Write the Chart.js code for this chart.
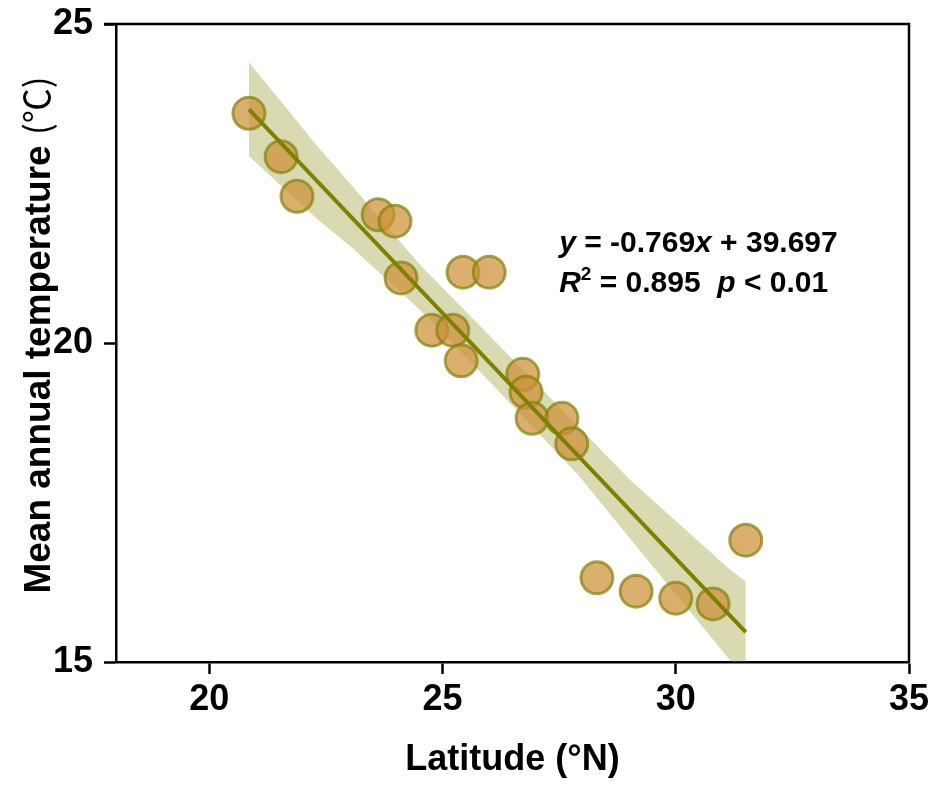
<!DOCTYPE html>
<html>
<head>
<meta charset="utf-8">
<script src="https://cdn.jsdelivr.net/npm/chart.js@4.4.1/dist/chart.umd.min.js"></script>
<style>
  body { margin: 0; background: #fff; }
  #wrap { width: 935px; height: 785px; }
</style>
</head>
<body>
<div id="wrap"><canvas id="latChart"></canvas></div>
<script>
// site data
var latitude = [20.85, 21.54, 21.88, 23.62, 23.98, 24.11, 25.44, 26.0, 24.77, 25.22, 25.4,
  26.72, 26.79, 26.92, 27.56, 27.77, 28.31, 29.15, 30.0, 30.8, 31.5];
var temperature = [23.6, 22.92, 22.3, 22.01, 21.91, 21.02, 21.11, 21.11, 20.2, 20.2, 19.72,
  19.51, 19.23, 18.82, 18.82, 18.42, 16.32, 16.11, 16.0, 15.91, 16.91];

// regression line end points (y = -0.769x + 39.697)
var fitX = [20.85, 31.5];
var fitY = [23.66, 15.47];

// confidence band outline
var bandX = [20.85, 22.3, 23.1, 24.5, 26.0, 27.9, 29.0, 31.16, 31.5];
var bandUpper = [24.4, 23.1, 22.43, 21.24, 20.12, 18.7, 17.87, 16.45, 16.26];
var bandLower = [22.93, 21.95, 21.47, 20.53, 19.4, 17.94, 16.95, 15.03, 14.67];

var xTicks = [20, 25, 30, 35];
var yTicks = [15, 20, 25];

function pts(xs, ys) {
  return xs.map(function (x, i) { return { x: x, y: ys[i] }; });
}

// top + right frame
var framePlugin = {
  id: "frame",
  afterDraw: function (chart) {
    var a = chart.chartArea, ctx = chart.ctx;
    ctx.save();
    ctx.strokeStyle = "#000";
    ctx.lineWidth = 2.5;
    ctx.beginPath();
    ctx.moveTo(a.left - 12, a.top);
    ctx.lineTo(a.right, a.top);
    ctx.lineTo(a.right, a.bottom);
    ctx.stroke();
    ctx.restore();
  }
};

function drawRuns(ctx, runs, x, y) {
  runs.forEach(function (r) {
    ctx.font = r.font;
    ctx.fillText(r.t, x, y + (r.dy || 0));
    x += ctx.measureText(r.t).width;
  });
}

// y title with mixed weight + equation text
var textPlugin = {
  id: "texts",
  afterDraw: function (chart) {
    var ctx = chart.ctx, a = chart.chartArea;
    ctx.save();
    ctx.fillStyle = "#000";
    ctx.textBaseline = "alphabetic";

    // y axis title
    var f1 = "bold 37px 'Liberation Sans', Arial, sans-serif";
    var f2 = "normal 35px 'Noto Sans CJK SC', sans-serif";
    var t1 = "Mean annual temperature ", t2 = "(\u2103)";
    ctx.font = f1;
    var w1 = ctx.measureText(t1).width;
    ctx.font = f2;
    var w2 = ctx.measureText(t2).width;
    ctx.translate(50, (a.top + a.bottom) / 2 - 8);
    ctx.rotate(-Math.PI / 2);
    drawRuns(ctx, [{ t: t1, font: f1 }, { t: t2, font: f2 }], -(w1 + w2) / 2, 0);
    ctx.setTransform(1, 0, 0, 1, 0, 0);

    // equation
    var xs = chart.scales.x, ys = chart.scales.y;
    var ex = xs.getPixelForValue(27.5);
    var b = "bold 30px 'Liberation Sans', Arial, sans-serif";
    var bi = "italic bold 30px 'Liberation Sans', Arial, sans-serif";
    var sup = "bold 19px 'Liberation Sans', Arial, sans-serif";
    drawRuns(ctx, [
      { t: "y", font: bi },
      { t: " = -0.769", font: b },
      { t: "x", font: bi },
      { t: " + 39.697", font: b }
    ], ex, ys.getPixelForValue(21.42));
    drawRuns(ctx, [
      { t: "R", font: bi },
      { t: "2", font: sup, dy: -12 },
      { t: " = 0.895  ", font: b },
      { t: "p", font: bi },
      { t: " < 0.01", font: b }
    ], ex, ys.getPixelForValue(20.8));
    ctx.restore();
  }
};

var tickFont = { family: "'Liberation Sans', Arial, sans-serif", size: 36, weight: "bold" };

new Chart(document.getElementById("latChart"), {
  type: "scatter",
  data: {
    datasets: [
      {
        type: "line",
        data: pts(bandX, bandUpper),
        borderWidth: 0,
        pointRadius: 0,
        fill: false,
        order: 4
      },
      {
        type: "line",
        data: pts(bandX, bandLower),
        borderWidth: 0,
        pointRadius: 0,
        fill: 0,
        backgroundColor: "rgba(128,128,0,0.3)",
        order: 3
      },
      {
        data: pts(latitude, temperature),
        pointRadius: 16,
        pointBorderWidth: 3,
        backgroundColor: "rgba(205,145,55,0.72)",
        borderColor: "rgba(130,130,10,0.7)",
        order: 2
      },
      {
        type: "line",
        data: pts(fitX, fitY),
        borderColor: "#7f7f00",
        borderWidth: 4,
        pointRadius: 0,
        fill: false,
        order: 1
      }
    ]
  },
  options: {
    responsive: true,
    maintainAspectRatio: false,
    animation: false,
    layout: { padding: { left: 0, right: 26, top: 24, bottom: 0 } },
    plugins: {
      legend: { display: false },
      tooltip: { enabled: false },
      filler: { drawTime: "beforeDatasetsDraw" }
    },
    scales: {
      x: {
        type: "linear",
        min: 18,
        max: 35,
        afterBuildTicks: function (s) {
          s.ticks = xTicks.map(function (v) { return { value: v }; });
        },
        afterFit: function (s) {
          s.height = 123;
          s.paddingLeft = 0;
          s.paddingRight = 0;
        },
        grid: { drawOnChartArea: false, tickLength: 12, tickWidth: 2.5, tickColor: "#000" },
        border: { display: true, color: "#000", width: 2.5 },
        ticks: { color: "#000", font: tickFont, padding: 4, maxRotation: 0 },
        title: {
          display: true,
          text: "Latitude (\u00b0N)",
          color: "#000",
          font: { family: "'Liberation Sans', Arial, sans-serif", size: 36, weight: "bold" },
          padding: { top: 0, bottom: 3 }
        }
      },
      y: {
        type: "linear",
        min: 15,
        max: 25,
        afterBuildTicks: function (s) {
          s.ticks = yTicks.map(function (v) { return { value: v }; });
        },
        afterFit: function (s) {
          s.width = 116;
          s.paddingTop = 0;
          s.paddingBottom = 0;
        },
        grid: { drawOnChartArea: false, tickLength: 12, tickWidth: 2.5, tickColor: "#000" },
        border: { display: true, color: "#000", width: 2.5 },
        ticks: { color: "#000", font: tickFont, padding: 11 }
      }
    }
  },
  plugins: [framePlugin, textPlugin]
});
</script>
</body>
</html>
